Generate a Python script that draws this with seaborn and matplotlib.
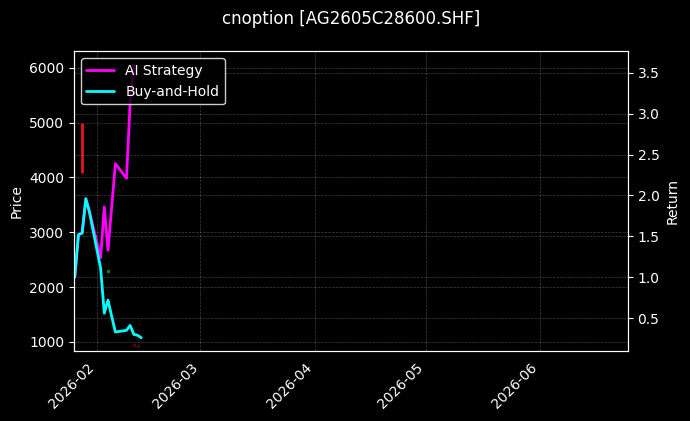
import pandas as pd
import numpy as np
import matplotlib
matplotlib.use("Agg")
import matplotlib.pyplot as plt
import matplotlib.dates as mdates
from matplotlib.lines import Line2D
import seaborn as sns

# data
dates = ["2026-01-26", "2026-01-27", "2026-01-28", "2026-01-29", "2026-01-30",
         "2026-02-02", "2026-02-03", "2026-02-04", "2026-02-05", "2026-02-06",
         "2026-02-09", "2026-02-10", "2026-02-11", "2026-02-12", "2026-02-13"]
ai_strategy = [1.00, 1.52, 1.54, 1.96, 1.80, 1.24, 1.86, 1.33, 1.86, 2.39,
               2.21, 3.14, 3.60, np.nan, np.nan]
buy_hold = [1.00, 1.52, 1.54, 1.96, 1.79, 1.11, 0.56, 0.72, 0.52, 0.33,
            0.35, 0.41, 0.30, 0.29, 0.26]

# price candles that are visible (date, open, close)
candle_dates = ["2026-01-28", "2026-02-04", "2026-02-11", "2026-02-12"]
candle_open = [4990, 2290, 960, 940]
candle_close = [4080, 2310, 930, 910]
candle_alpha = [1.0, 0.6, 0.25, 0.25]

sns.set_theme(style="dark")
plt.style.use("dark_background")
plt.rcParams['font.family'] = ['DejaVu Sans']
plt.rcParams.update({
    "font.size": 10, "axes.labelsize": 10, "axes.titlesize": 12,
    "xtick.labelsize": 10, "ytick.labelsize": 10, "legend.fontsize": 10,
    "axes.linewidth": 0.8, "axes.labelpad": 4.0,
    "xtick.major.size": 3.5, "ytick.major.size": 3.5,
    "xtick.major.width": 0.8, "ytick.major.width": 0.8,
    "xtick.major.pad": 3.5, "ytick.major.pad": 3.5,
})

df = pd.DataFrame({
    "date": pd.to_datetime(dates * 2),
    "ret": ai_strategy + buy_hold,
    "series": ["AI Strategy"] * len(dates) + ["Buy-and-Hold"] * len(dates),
}).dropna()

fig, ax1 = plt.subplots(figsize=(6.9, 4.21), dpi=100)
fig.subplots_adjust(left=0.107, right=0.910, top=0.878, bottom=0.166)
ax2 = ax1.twinx()

# candles on price axis
cd = pd.to_datetime(candle_dates)
for d, o, c, a in zip(cd, candle_open, candle_close, candle_alpha):
    col = "#e8141a" if c < o else "#22b022"
    lo, hi = min(o, c), max(o, c)
    if hi - lo < 40:
        ax1.plot([d], [(o + c) / 2], marker="s", ms=2, color=col, alpha=a, lw=0)
    else:
        ax1.vlines(d, lo, hi, color=col, lw=2, alpha=a)

sns.lineplot(data=df, x="date", y="ret", hue="series", ax=ax2,
             palette={"AI Strategy": "#ff00ff", "Buy-and-Hold": "#00ffff"},
             linewidth=2, legend=False)

ax1.set_ylim(830, 6303)
ax2.set_ylim(0.096, 3.763)
ax1.set_xlim(pd.Timestamp("2026-01-25 18:00"), pd.Timestamp("2026-06-24 18:00"))

ax1.xaxis.set_major_locator(mdates.MonthLocator())
ax1.xaxis.set_major_formatter(mdates.DateFormatter("%Y-%m"))
for lab in ax1.get_xticklabels():
    lab.set_rotation(45)
    lab.set_ha("right")

ax1.grid(True, linestyle="--", linewidth=0.5, color="gray", alpha=0.5)
ax2.grid(True, linestyle="--", linewidth=0.5, color="gray", alpha=0.5)

ax1.set_ylabel("Price")
ax2.set_ylabel("Return")
ax1.set_xlabel("")
ax2.set_xlabel("")
ax1.set_title("cnoption [AG2605C28600.SHF]", fontsize=12, pad=20)

handles = [Line2D([], [], color="#ff00ff", lw=2), Line2D([], [], color="#00ffff", lw=2)]
ax2.legend(handles, ["AI Strategy", "Buy-and-Hold"], loc="upper left",
           facecolor="black", edgecolor="white", framealpha=0.8)

for ax in (ax1, ax2):
    for s in ax.spines.values():
        s.set_color("white")

fig.savefig("out.png", dpi=100, facecolor="black")
